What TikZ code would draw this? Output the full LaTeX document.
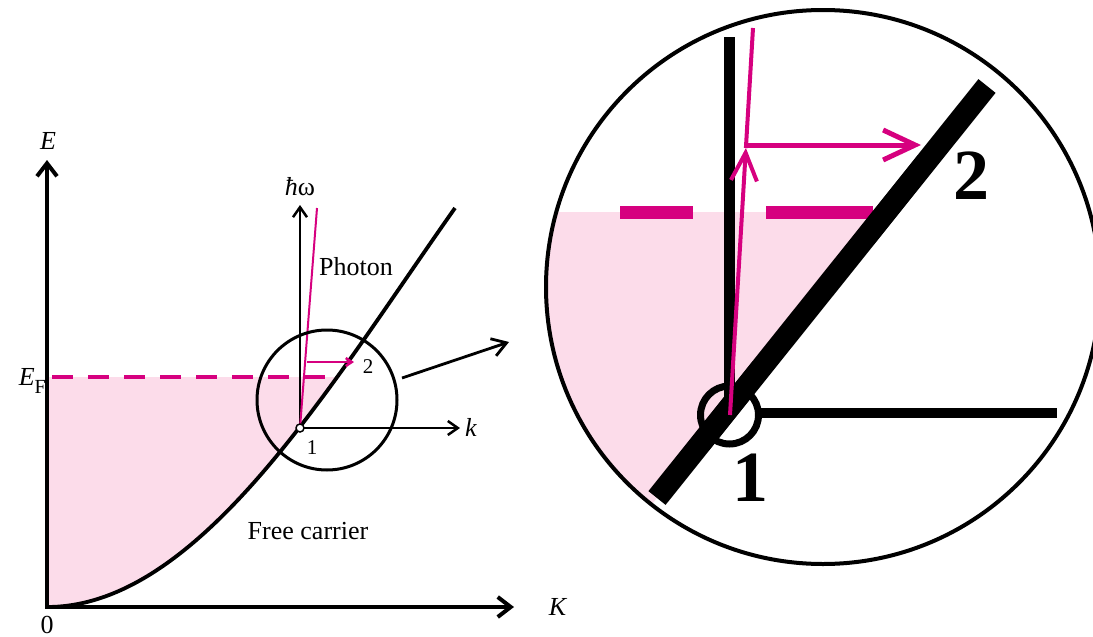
\documentclass[tikz,border=0pt]{standalone}
\usepackage{fontspec}
\setmainfont{Liberation Serif}
\usetikzlibrary{arrows.meta}
\definecolor{mag}{RGB}{214,0,127}
\definecolor{pinkf}{RGB}{252,220,234}
\begin{document}
\begin{tikzpicture}[x=1pt,y=-1pt,
  lbl/.style={inner sep=0pt, font=\fontsize{26}{30}\selectfont},
  smalllbl/.style={inner sep=0pt, font=\fontsize{21}{24}\selectfont},
  biglbl/.style={inner sep=0pt, font=\fontsize{72}{76}\selectfont\bfseries},
  axisarrow/.style={line width=4, -{Straight Barb[length=13,width=20]}},
  thinaxis/.style={line width=2.5, -{Straight Barb[length=10,width=14]}},
  magline/.style={mag, line width=2},
  thickbar/.style={line width=#1, line cap=butt}]
\useasboundingbox (0,0) rectangle (1093,637);
\clip (0,0) rectangle (1093,637);

% ---------- left diagram ----------
\coordinate (O) at (47,607);
\coordinate (Etip) at (47,160);
\coordinate (Ktip) at (514,607);
\coordinate (P1) at (300,428);
\coordinate (Ctop) at (455,208);
\coordinate (EFl) at (52,377);
\coordinate (EFr) at (338,377);
\coordinate (Wtip) at (300,205);
\coordinate (ktip) at (460,428);
\coordinate (Ph) at (317,208);
\coordinate (A2s) at (307,362);
\coordinate (A2e) at (354,362);
\coordinate (SC) at (327,400);
\coordinate (Zs) at (402,378);
\coordinate (Ze) at (509,342);

\begin{scope}
  \clip (47,377) rectangle (500,607);
  \fill[pinkf] (O) .. controls (200,607) and (330,385) .. (Ctop) -- (47,208) -- cycle;
\end{scope}
\draw[mag, line width=3.2, dash pattern=on 21 off 15] (EFl) -- (EFr);
\draw[axisarrow] (O) -- (Etip);
\draw[axisarrow] ([xshift=-2]O) -- (Ktip);
\draw[line width=3.8] (O) .. controls (200,607) and (330,385) .. (Ctop);
\draw[thinaxis] (P1) -- (Wtip);
\draw[thinaxis] (P1) -- (ktip);
\draw[magline] (P1) -- (Ph);
\draw[mag, line width=2.5, -{Straight Barb[length=6,width=8]}] (A2s) -- (A2e);
\draw[line width=3] (SC) circle (70);
\draw[line width=1.5, fill=white] (P1) circle (4);
\draw[line width=2.8, -{Straight Barb[length=14,width=18]}] (Zs) -- (Ze);

\node[lbl] (lE) at (48,141) {\textit{E}};
\node[lbl, anchor=east] (lEF) at (46,381) {\textit{E}\raisebox{-0.3em}{\fontsize{20}{22}\selectfont F}};
\node[lbl, anchor=base] (l0) at (47,633) {0};
\node[lbl] (lK) at (558,607) {\textit{K}};
\node[lbl] (lk) at (471,427) {\textit{k}};
\node[lbl] (lw) at (300,187) {\textit{ħ}ω};
\node[lbl] (lph) at (356,267) {Photon};
\node[smalllbl] (l2s) at (368,367) {2};
\node[smalllbl] (l1s) at (312,448) {1};
\node[lbl] (lfc) at (308,531) {Free carrier};

% ---------- right (magnified) diagram ----------
\coordinate (BC) at (823,287);
\coordinate (Q) at (729.5,415);
\coordinate (Vtop) at (729.5,37);
\coordinate (Hs) at (758,413);
\coordinate (He) at (1057,413);
\coordinate (Db) at (657,498);
\coordinate (Dt) at (987,86);
\coordinate (PhB) at (730,415);
\coordinate (PhM) at (745.9,148);
\coordinate (PhT) at (753,28);
\coordinate (Hs2) at (746,145);
\coordinate (He2) at (921,145);

\begin{scope}
  \clip (BC) circle (277);
  \fill[pinkf] (530,212) -- (886,212) -- (560,619) -- (530,619) -- cycle;
\end{scope}
\draw[mag, line width=13] (620,212) -- (693,212);
\draw[mag, line width=13] (766,212) -- (873,212);
\draw[thickbar=11] (Q) -- (Vtop);
\draw[thickbar=10] (Hs) -- (He);
\draw[thickbar=22] (Db) -- (Dt);
\draw[line width=7] (Q) circle (29);
\draw[mag, line width=4] (PhM) -- (PhT);
\draw[mag, line width=4, -{Straight Barb[length=28,width=26]}] (PhB) -- (PhM);
\draw[mag, line width=5, -{Straight Barb[length=32,width=30]}] (Hs2) -- (He2);
\draw[line width=4] (BC) circle (277);

\node[biglbl] (l2b) at (971,176) {2};
\node[biglbl] (l1b) at (750,478) {1};
\end{tikzpicture}
\end{document}
